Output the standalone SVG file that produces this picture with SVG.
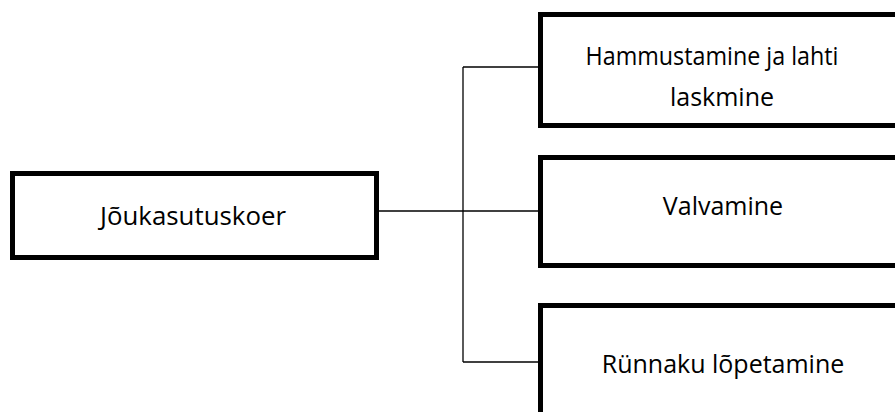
<svg xmlns="http://www.w3.org/2000/svg" width="895" height="412" viewBox="0 0 895 412">
  <style>
    .box { fill: #ffffff; stroke: #000000; stroke-width: 5; }
    .wire { fill: none; stroke: #000000; stroke-width: 1.3; }
    .label { font-family: "Open Sans", "Liberation Sans", sans-serif; font-size: 25px; fill: #000000; text-anchor: middle; }
  </style>
  <rect width="895" height="412" fill="#ffffff"/>
  <g id="connectors">
    <path class="wire" d="M379 211 H538"/>
    <path class="wire" d="M463 67 V362"/>
    <path class="wire" d="M463 67 H538"/>
    <path class="wire" d="M463 362 H538"/>
  </g>
  <g id="node-root">
    <rect class="box" x="12.5" y="173.5" width="364" height="84"/>
    <text class="label" x="193" y="225" textLength="186" lengthAdjust="spacingAndGlyphs">Jõukasutuskoer</text>
  </g>
  <g id="node-hammustamine">
    <rect class="box" x="540.5" y="14.5" width="400" height="111"/>
    <text class="label" x="712" y="65" textLength="253" lengthAdjust="spacingAndGlyphs">Hammustamine ja lahti</text>
    <text class="label" x="722" y="106">laskmine</text>
  </g>
  <g id="node-valvamine">
    <rect class="box" x="540.5" y="157.5" width="400" height="108"/>
    <text class="label" x="723" y="215">Valvamine</text>
  </g>
  <g id="node-rynnaku">
    <rect class="box" x="540.5" y="305.5" width="400" height="150"/>
    <text class="label" x="723" y="373">Rünnaku lõpetamine</text>
  </g>
</svg>
